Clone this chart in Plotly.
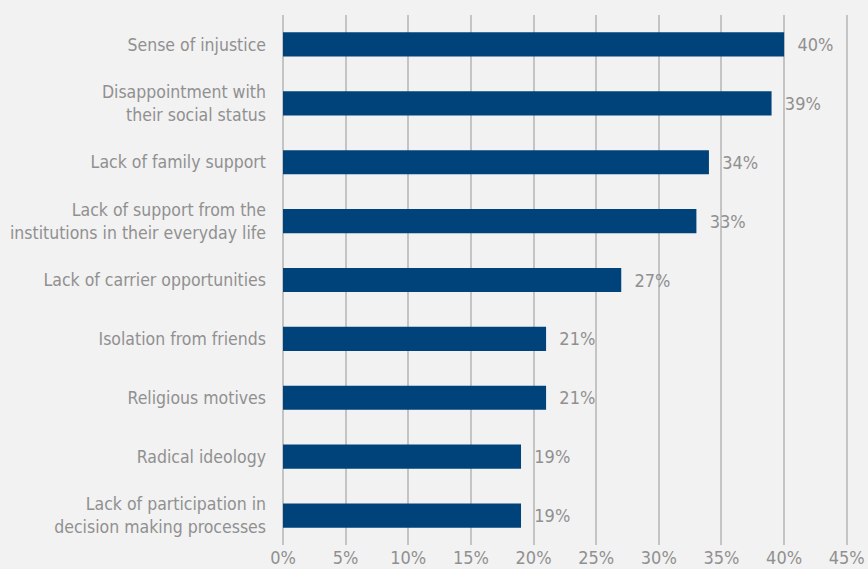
import plotly.graph_objects as go

categories = [
    "Sense of injustice",
    "Disappointment with<br>their social status",
    "Lack of family support",
    "Lack of support from the<br>institutions in their everyday life",
    "Lack of carrier opportunities",
    "Isolation from friends",
    "Religious motives",
    "Radical ideology",
    "Lack of participation in<br>decision making processes",
]
values = [40, 39, 34, 33, 27, 21, 21, 19, 19]
tick_vals = [0, 5, 10, 15, 20, 25, 30, 35, 40, 45]
tick_text = [f"{v}%" for v in tick_vals]

FONT = "DejaVu Sans Condensed, Liberation Sans Narrow, sans-serif"
GRAY = "#909090"
GRID = "#c4c4c4"

fig = go.Figure(
    go.Bar(
        y=categories[::-1],
        x=values[::-1],
        orientation="h",
        marker=dict(color="#00427a", line=dict(width=0)),
        text=[f"{v}%" for v in values[::-1]],
        texttemplate="  %{text}",
        textposition="outside",
        cliponaxis=False,
        textfont=dict(family=FONT, size=18, color=GRAY),
    )
)

fig.update_layout(
    width=868,
    height=569,
    margin=dict(l=283, r=15, t=15, b=24),
    paper_bgcolor="#f2f2f2",
    plot_bgcolor="#f2f2f2",
    bargap=0.59,
    showlegend=False,
    font=dict(family=FONT, color=GRAY),
)
fig.update_xaxes(
    range=[0, 45.5],
    tickvals=tick_vals,
    ticktext=tick_text,
    showgrid=True,
    gridcolor=GRID,
    gridwidth=2,
    zeroline=True,
    zerolinecolor=GRID,
    zerolinewidth=2,
    showline=False,
    tickfont=dict(family=FONT, size=18, color=GRAY),
    ticklabeloverflow="allow",
    ticks="",
    automargin=False,
    fixedrange=True,
)
fig.update_yaxes(
    showgrid=False,
    zeroline=False,
    showline=False,
    ticks="",
    ticklabelstandoff=16,
    tickfont=dict(family=FONT, size=17.5, color=GRAY),
    automargin=False,
    fixedrange=True,
)

fig.write_html("out.html")
